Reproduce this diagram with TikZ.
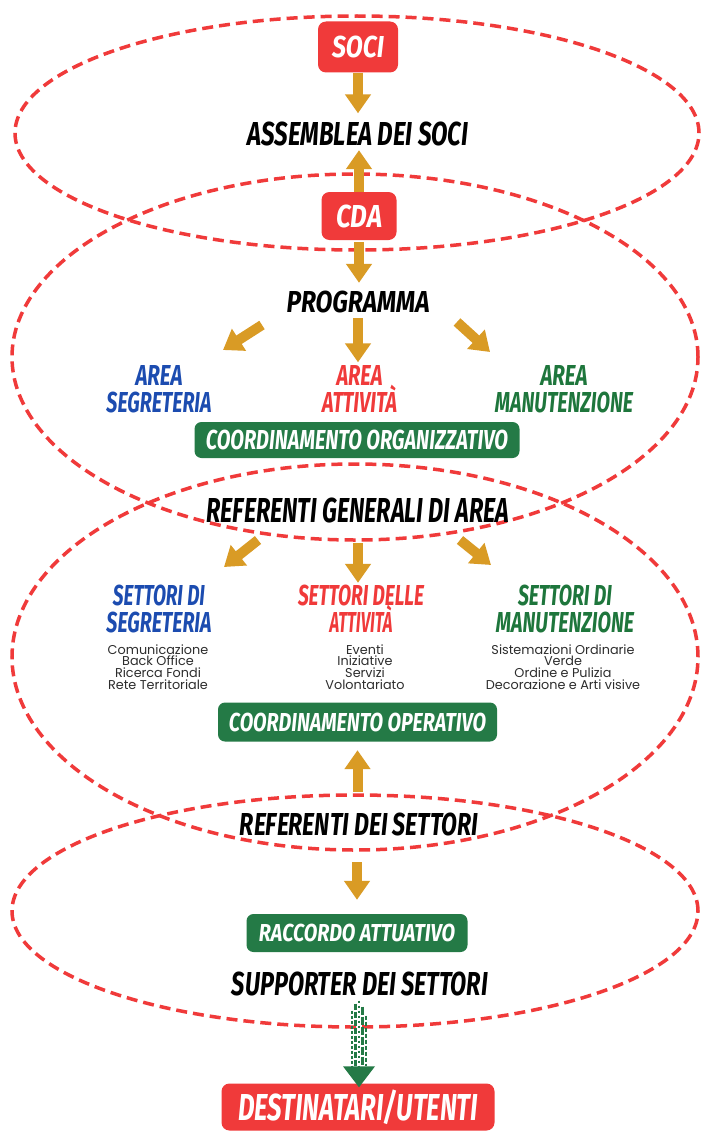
\documentclass[tikz,border=0pt]{standalone}
\usepackage{graphicx}
\usepackage{fontspec}
\setmainfont{Poppins}
\newfontfamily\bang{Fira Sans}
\usetikzlibrary{arrows.meta,calc}
\definecolor{myred}{RGB}{240,58,58}
\definecolor{gold}{RGB}{217,155,37}
\definecolor{boxgreen}{RGB}{36,122,70}
\definecolor{txtgreen}{RGB}{30,118,60}
\definecolor{myblue}{RGB}{28,76,176}
\definecolor{listgray}{RGB}{45,45,45}
\newcommand\fit[3]{\resizebox{#1pt}{#2pt}{\bang\bfseries\itshape\smash{#3}\vphantom{A}}}
\begin{document}
\begin{tikzpicture}[x=1pt,y=-1pt,
  ell/.style={draw=myred, line width=3.5pt, dash pattern=on 11pt off 6pt},
  redbox/.style={fill=myred, rounded corners=8pt, inner sep=0pt, text=white},
  greenbox/.style={fill=boxgreen, rounded corners=7pt, inner sep=0pt, text=white},
  txt/.style={inner sep=0pt, text=black},
  two/.style={inner sep=0pt, align=center, font=\fontsize{10}{27}\selectfont},
  list/.style={inner sep=0pt, align=center, text=listgray, font=\fontsize{12.8}{11.7}\selectfont},
  garrow/.style={draw=gold, line width=10pt, -{Triangle[width=25pt,length=19pt]}},
  gline/.style={draw=boxgreen, line width=2.2pt}
]
\useasboundingbox (0,0) rectangle (701,1132);
\fill[white] (0,0) rectangle (701,1132);

% dashed ellipses
\draw[ell] (357,133) ellipse [x radius=342pt, y radius=117pt];
\draw[ell] (355,357) ellipse [x radius=343pt, y radius=183pt];
\draw[ell] (355,657) ellipse [x radius=343pt, y radius=193pt];
\draw[ell] (355,911) ellipse [x radius=343pt, y radius=116pt];

% nodes
\node[redbox, minimum width=80pt, minimum height=51pt] (soci) at (358,47) {\fit{52}{21}{SOCI}};
\node[txt] (assemblea) at (358,134) {\fit{221}{23}{ASSEMBLEA DEI SOCI}};
\node[redbox, minimum width=75pt, minimum height=48pt] (cda) at (359,216) {\fit{46}{22}{CDA}};
\node[txt] (programma) at (358,302) {\fit{143}{21}{PROGRAMMA}};

\node[two, text=myblue] (areaseg) at (159,388.5) {\fit{47}{20}{AREA}\\\fit{105}{20}{SEGRETERIA}};
\node[two, text=myred] (areaatt) at (359.5,388.5) {\fit{46}{20}{AREA}\\\fit{75}{20}{ATTIVITÀ}};
\node[two, text=txtgreen] (areaman) at (564,388.5) {\fit{47}{20}{AREA}\\\fit{138}{20}{MANUTENZIONE}};

\node[greenbox, minimum width=325pt, minimum height=36pt] (coordorg) at (357,440) {\fit{302}{19}{COORDINAMENTO ORGANIZZATIVO}};
\node[txt] (refgen) at (358,510) {\fit{303}{24}{REFERENTI GENERALI DI AREA}};

\node[two, text=myblue] (settseg) at (159,608.5) {\fit{92}{20}{SETTORI DI}\\\fit{105}{20}{SEGRETERIA}};
\node[two, text=myred] (settatt) at (361,608.5) {\fit{126}{20}{SETTORI DELLE}\\\fit{63}{20}{ATTIVITÀ}};
\node[two, text=txtgreen] (settman) at (565,608.5) {\fit{94}{20}{SETTORI DI}\\\fit{138}{20}{MANUTENZIONE}};

\node[list] (listseg) at (158,667) {Comunicazione\\Back Office\\Ricerca Fondi\\Rete Territoriale};
\node[list] (listatt) at (365,667) {Eventi\\Iniziative\\Servizi\\Volontariato};
\node[list] (listman) at (563,667) {Sistemazioni Ordinarie\\Verde\\Ordine e Pulizia\\Decorazione e Arti visive};

\node[greenbox, minimum width=279pt, minimum height=39pt] (coordop) at (357.5,722) {\fit{257}{18}{COORDINAMENTO OPERATIVO}};
\node[txt] (refset) at (359,824) {\fit{238}{22}{REFERENTI DEI SETTORI}};
\node[greenbox, minimum width=221pt, minimum height=38pt] (raccordo) at (357,933) {\fit{196}{17}{RACCORDO ATTUATIVO}};
\node[txt] (supporter) at (360,984) {\fit{256}{23}{SUPPORTER DEI SETTORI}};
\node[redbox, minimum width=273pt, minimum height=47pt] (dest) at (358,1107) {\fit{240}{26}{DESTINATARI/UTENTI}};

% free ends of the diagonal arrows
\coordinate (pl1) at (262,325); \coordinate (pl2) at (223,350);
\coordinate (pr1) at (457,322); \coordinate (pr2) at (490,352);
\coordinate (rl1) at (258,540); \coordinate (rl2) at (224,567);
\coordinate (rr1) at (460,540); \coordinate (rr2) at (491,565);

% gold arrows
\draw[garrow, shorten >=9pt] (soci.south) -- (soci.south |- assemblea.north);
\draw[garrow, shorten >=4.5pt] (cda.north) -- (cda.north |- assemblea.south);
\draw[garrow, shorten <=2pt, shorten >=8.5pt] (cda.south) -- (cda.south |- programma.north);
\draw[garrow, shorten <=5.5pt, shorten >=2.5pt] (programma.south) -- (programma.south |- areaatt.north);
\draw[garrow] (pl1) -- (pl2);
\draw[garrow] (pr1) -- (pr2);
\draw[garrow, shorten <=21pt, shorten >=2pt] (refgen.south) -- (refgen.south |- settatt.north);
\draw[garrow] (rl1) -- (rl2);
\draw[garrow] (rr1) -- (rr2);
\draw[garrow, shorten <=21pt, shorten >=8.5pt] (refset.north -| coordop.south) -- (coordop.south);
\draw[garrow, shorten <=27pt, shorten >=14pt] (refset.south -| raccordo.north) -- (raccordo.north);

% green speed arrow
\coordinate (gs) at ($(supporter.south)+(-1,0)$);
\coordinate (gh) at ($(dest.north)+(1,-17)$);
\draw[gline, dash pattern=on 3pt off 2pt] ($(gs)+(-7,15)$) -- ($(gh)+(-7,0)$);
\draw[gline, dash pattern=on 6pt off 2pt] ($(gs)+(-3.5,8)$) -- ($(gh)+(-3.5,0)$);
\draw[gline, dash pattern=on 2pt off 3pt] ($(gs)+(0,5)$) -- ($(gh)+(0,0)$);
\draw[gline, dash pattern=on 8pt off 2pt] ($(gs)+(3.5,11)$) -- ($(gh)+(3.5,0)$);
\draw[gline, dash pattern=on 4pt off 2pt] ($(gs)+(7,20)$) -- ($(gh)+(7,0)$);
\fill[boxgreen] ($(gh)+(-16,0)$) -- ($(gh)+(16,0)$) -- ($(dest.north)+(1,4)$) -- cycle;
\end{tikzpicture}
\end{document}
